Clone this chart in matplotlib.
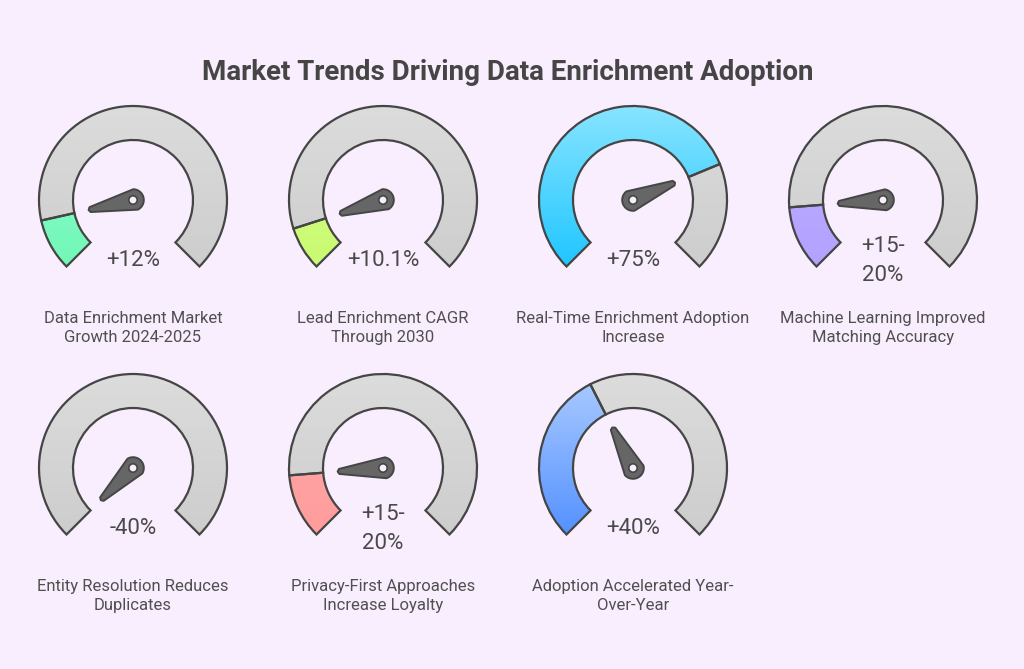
import numpy as np
import matplotlib.pyplot as plt
from matplotlib.patches import Wedge, Circle, Polygon
from matplotlib.colors import to_rgba

plt.rcParams['font.family'] = ['Roboto', 'DejaVu Sans']

title = "Market Trends Driving Data Enrichment Adoption"
labels = ["Data Enrichment Market\nGrowth 2024-2025",
          "Lead Enrichment CAGR\nThrough 2030",
          "Real-Time Enrichment Adoption\nIncrease",
          "Machine Learning Improved\nMatching Accuracy",
          "Entity Resolution Reduces\nDuplicates",
          "Privacy-First Approaches\nIncrease Loyalty",
          "Adoption Accelerated Year-\nOver-Year"]
value_text = ["+12%", "+10.1%", "+75%", "+15-\n20%", "-40%", "+15-\n20%", "+40%"]
# gauge fill in percent (negative value shown as empty gauge)
fill_pct = [12, 10.1, 75, 15, 0, 15, 40]
top_colors = ['#8effd2', '#dcff8c', '#88e4ff', '#bdaeff', '#dadada', '#ffaaaa', '#acccff']
bot_colors = ['#72f7b6', '#c8fa70', '#1ec6ff', '#b3a2ff', '#c9c9c9', '#ff9c9c', '#5390ff']

W, H = 1024, 669
fig = plt.figure(figsize=(W / 100, H / 100), dpi=100)
bg = '#f9eefd'
fig.patch.set_facecolor(bg)
ax = fig.add_axes([0, 0, 1, 1])
ax.set_facecolor(bg)
ax.set_axis_off()

R, r = 94, 60
edge = '#454545'


def grad_wedge(cx, cy, t1, t2, ctop, cbot):
    w = Wedge((cx, cy), R, t1, t2, width=R - r, facecolor='none', edgecolor=edge, lw=1.6, zorder=3)
    ax.add_patch(w)
    n = 64
    c1, c2 = np.array(to_rgba(ctop)), np.array(to_rgba(cbot))
    t = np.linspace(0, 1, n)[:, None]
    img = (c1 * (1 - t) + c2 * t)[:, None, :]
    im = ax.imshow(img, extent=(cx - R, cx + R, cy - R * 0.75, cy + R), origin='upper',
                   aspect='auto', interpolation='bilinear', zorder=2)
    im.set_clip_path(w)


for i, lab in enumerate(labels):
    row, col = divmod(i, 4)
    cx = 133 + 250 * col
    cy = H - (200 if row == 0 else 468)
    split = 225 - fill_pct[i] / 100 * 270
    grad_wedge(cx, cy, -45, split, '#dcdcdc', '#cdcdcd')
    if fill_pct[i] > 0:
        grad_wedge(cx, cy, split, 225, top_colors[i], bot_colors[i])

    # needle: tapered from hub to a small rounded tip
    a = np.radians(split)
    d = np.array([np.cos(a), np.sin(a)])
    p = np.array([-d[1], d[0]])
    c = np.array([cx, cy])
    tip = c + d * 44
    pts = [tip + p * 2.5, tip + d * 1.5, tip - p * 2.5]
    for ang in np.linspace(np.pi / 2 + 0.25, 3 * np.pi / 2 - 0.25, 24):
        pts.append(c + 10.8 * (np.cos(ang) * d + np.sin(ang) * -p))
    ax.add_patch(Polygon(pts, closed=True, facecolor='#666666', edgecolor=edge,
                         lw=1.4, joinstyle='round', zorder=4))
    ax.add_patch(Circle((cx, cy), 4.2, facecolor='#f7f0fa', edgecolor=edge, lw=1.2, zorder=5))

    ax.text(cx, cy - 61, value_text[i], ha='center', va='center', fontsize=16,
            color='#4a4a4a', linespacing=1.45, zorder=6)
    ax.text(cx, cy - 128, lab, ha='center', va='center', fontsize=12,
            color='#505050', linespacing=1.38, zorder=6)

ax.text(W / 2 - 4, H - 73, title, ha='center', va='center', fontsize=20,
        fontweight='bold', color='#454545')

ax.set_xlim(0, W)
ax.set_ylim(0, H)
fig.savefig('out.png', dpi=100, facecolor=bg)
